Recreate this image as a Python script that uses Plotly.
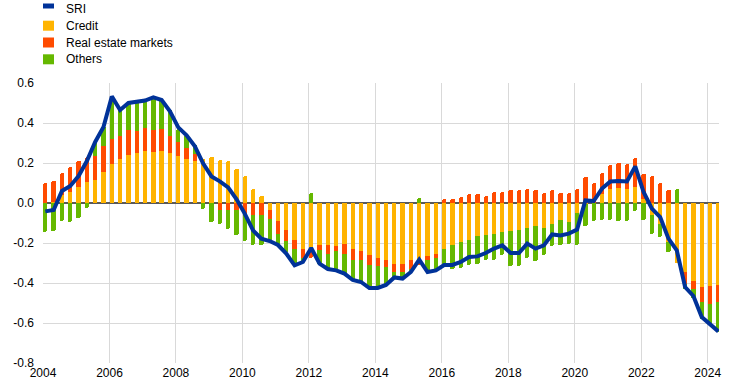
import plotly.graph_objects as go

# Quarterly periods 2004Q1 .. 2024Q2
years = [2004 + k // 4 for k in range(82)]
quarters = [k % 4 + 1 for k in range(82)]

credit = [0.0, 0.005, 0.038, 0.055, 0.08, 0.105, 0.113, 0.155, 0.197, 0.22,
          0.24, 0.25, 0.26, 0.255, 0.26, 0.25, 0.233, 0.22, 0.208, 0.222,
          0.228, 0.213, 0.208, 0.172, 0.133, 0.072, 0.033, -0.033, -0.092, -0.137,
          -0.187, -0.228, -0.245, -0.212, -0.212, -0.217, -0.203, -0.232, -0.242, -0.258,
          -0.273, -0.287, -0.303, -0.303, -0.287, -0.29, -0.267, -0.257, -0.228, -0.212,
          -0.195, -0.183, -0.167, -0.158, -0.157, -0.145, -0.142, -0.137, -0.123, -0.117,
          -0.123, -0.103, -0.087, -0.095, -0.05, -0.005, 0.0, 0.043, 0.072, 0.075,
          0.072, 0.08, 0.02, -0.062, -0.103, -0.195, -0.30, -0.345, -0.392, -0.42,
          -0.415, -0.412]

real_estate = [0.10, 0.103, 0.11, 0.123, 0.128, 0.127, 0.12, 0.128, 0.121, 0.115,
               0.125, 0.108, 0.115, 0.112, 0.108, 0.085, 0.072, 0.055, 0.035, 0.0,
               0.0, -0.033, -0.037, -0.037, -0.053, -0.058, -0.062, -0.045, -0.061, -0.053,
               -0.045, -0.045, -0.028, -0.025, -0.041, -0.025, -0.05, -0.051, -0.045, -0.054,
               -0.044, -0.033, -0.042, -0.042, -0.041, -0.02, -0.016, -0.016, 0.022, 0.022,
               0.03, 0.045, 0.043, 0.033, 0.053, 0.055, 0.063, 0.063, 0.072, 0.063,
               0.052, 0.063, 0.052, 0.052, 0.072, 0.13, 0.102, 0.109, 0.12, 0.125,
               0.125, 0.145, 0.127, 0.133, 0.102, 0.063, 0.0, -0.058, -0.036, -0.075,
               -0.088, -0.083]

others = [-0.145, -0.14, -0.09, -0.095, -0.073, -0.023, 0.07, 0.097, 0.217, 0.135,
          0.138, 0.149, 0.138, 0.153, 0.149, 0.128, 0.067, 0.063, 0.045, -0.028,
          -0.095, -0.074, -0.091, -0.125, -0.137, -0.15, -0.146, -0.112, -0.055, -0.06,
          -0.08, -0.022, 0.052, -0.066, -0.084, -0.095, -0.10, -0.104, -0.108, -0.108,
          -0.103, -0.092, -0.033, -0.033, -0.017, 0.027, -0.062, -0.064, -0.092, -0.116,
          -0.13, -0.129, -0.14, -0.129, -0.126, -0.117, -0.173, -0.178, -0.15, -0.175,
          -0.139, -0.114, -0.125, -0.108, -0.158, -0.112, -0.092, -0.083, -0.087, -0.092,
          -0.092, -0.04, -0.087, -0.091, -0.067, -0.05, 0.068, -0.025, -0.047, -0.083,
          -0.109, -0.15]

sri = [-0.042, -0.035, 0.06, 0.085, 0.135, 0.21, 0.305, 0.38, 0.533, 0.465,
       0.50, 0.508, 0.512, 0.528, 0.515, 0.458, 0.378, 0.338, 0.283, 0.197,
       0.133, 0.108, 0.078, 0.02, -0.053, -0.137, -0.178, -0.19, -0.21, -0.253,
       -0.312, -0.295, -0.225, -0.303, -0.33, -0.337, -0.353, -0.385, -0.395, -0.425,
       -0.425, -0.41, -0.372, -0.378, -0.345, -0.283, -0.345, -0.337, -0.31, -0.31,
       -0.295, -0.27, -0.267, -0.25, -0.228, -0.212, -0.25, -0.25, -0.203, -0.228,
       -0.212, -0.157, -0.162, -0.153, -0.133, 0.013, 0.01, 0.072, 0.108, 0.11,
       0.108, 0.183, 0.055, -0.028, -0.07, -0.178, -0.237, -0.42, -0.465, -0.57,
       -0.603, -0.642]

y_ticks = [0.6, 0.4, 0.2, 0.0, -0.2, -0.4, -0.6, -0.8]
y_tick_text = ["0.6", "0.4", "0.2", "0.0", "-0.2", "-0.4", "-0.6", "-0.8"]
x_ticks = list(range(2004, 2025, 2))
x_tick_text = [str(v) for v in x_ticks]

series_names = ["SRI", "Credit", "Real estate markets", "Others"]
colors = {"SRI": "#003299", "Credit": "#FFB400",
          "Real estate markets": "#FF4B00", "Others": "#65B800"}

x = [y + (q - 1) / 4 + 0.07 for y, q in zip(years, quarters)]
labels = [f"{y}Q{q}" for y, q in zip(years, quarters)]

fig = go.Figure()
for name, vals in [("Credit", credit), ("Real estate markets", real_estate), ("Others", others)]:
    fig.add_trace(go.Bar(x=x, y=vals, name=name, width=0.13,
                         marker=dict(color=colors[name], line=dict(width=0)),
                         customdata=labels, showlegend=False,
                         hovertemplate="%{customdata}: %{y}<extra>" + name + "</extra>"))
fig.add_trace(go.Scatter(x=x, y=sri, name="SRI", mode="lines",
                         line=dict(color=colors["SRI"], width=4),
                         customdata=labels, showlegend=False,
                         hovertemplate="%{customdata}: %{y}<extra>SRI</extra>"))

W, H = 744, 390
L, R, T, B = 43, 25, 83, 27
pw, ph = W - L - R, H - T - B

def px(xpage):
    return (xpage - L) / pw

def py(ypage):
    return (H - B - ypage) / ph

shapes = []
annotations = []
row_y = [9, 25.7, 42.5, 59.3]
for name, yc in zip(series_names, row_y):
    if name == "SRI":
        shapes.append(dict(type="rect", xref="paper", yref="paper",
                           x0=px(43), x1=px(54), y0=py(yc - 0.5), y1=py(yc - 5.5),
                           fillcolor=colors[name], line=dict(width=0)))
    else:
        shapes.append(dict(type="rect", xref="paper", yref="paper",
                           x0=px(43), x1=px(54), y0=py(yc + 5), y1=py(yc - 5),
                           fillcolor=colors[name], line=dict(width=0)))
    annotations.append(dict(text=name, xref="paper", yref="paper",
                            x=px(64), y=py(yc), xanchor="left", yanchor="middle",
                            showarrow=False, font=dict(size=12, color="#000000")))

fig.update_layout(
    width=W, height=H,
    margin=dict(l=L, r=R, t=T, b=B, pad=0, autoexpand=False),
    paper_bgcolor="white", plot_bgcolor="white",
    barmode="relative", bargap=0, barcornerradius=2,
    font=dict(family="Arial, Liberation Sans, sans-serif", size=12, color="#000000"),
    shapes=shapes, annotations=annotations,
    showlegend=False,
    xaxis=dict(range=[2004, 2024.34], tickvals=x_ticks, ticktext=x_tick_text,
               showgrid=True, gridcolor="#d9d9d9", gridwidth=1, automargin=False,
               zeroline=False, showline=False, ticks="", ticklabelstandoff=1,
               tickfont=dict(size=12, color="#000000")),
    yaxis=dict(range=[-0.8, 0.6], tickvals=y_ticks, ticktext=y_tick_text,
               showgrid=True, gridcolor="#d9d9d9", gridwidth=1, automargin=False,
               zeroline=True, zerolinecolor="#595959", zerolinewidth=2,
               showline=False, ticks="", ticklabelstandoff=8,
               tickfont=dict(size=12, color="#000000")),
)

fig.write_html("out.html", config={"displayModeBar": False},
               post_script="document.body.style.margin='0';")
